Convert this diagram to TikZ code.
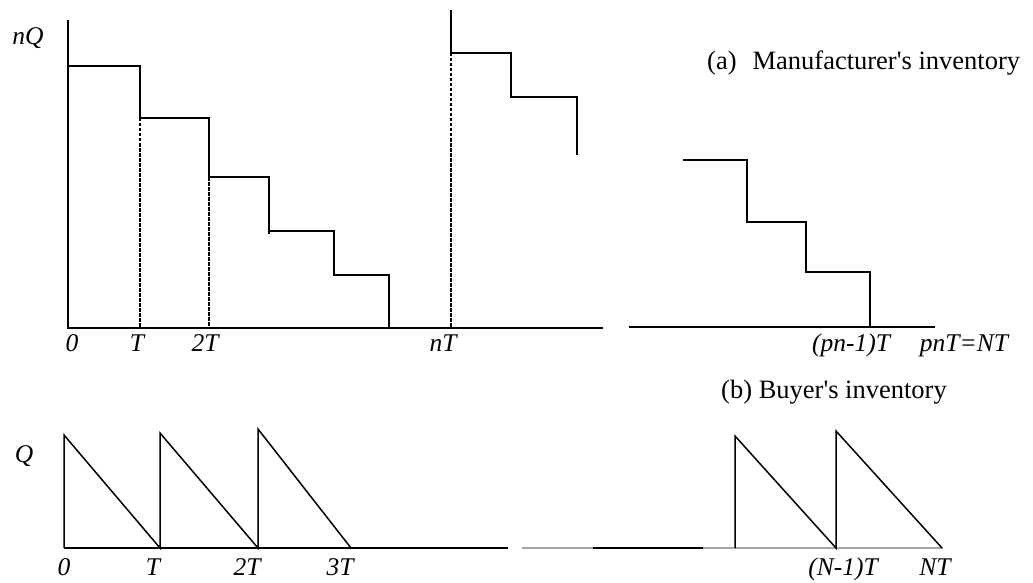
\documentclass[tikz,border=0pt]{standalone}
\usepackage{fontspec}
\setmainfont{Liberation Serif}
\begin{document}
\begin{tikzpicture}[x=1pt,y=-1pt,
  ln/.style={line width=1.5pt},
  dsh/.style={line width=1.3pt, dash pattern=on 3.5pt off 1.5pt},
  gry/.style={line width=1.5pt, draw=black!35},
  lbl/.style={font=\fontsize{25.5}{28}\selectfont\itshape, anchor=base, inner sep=0pt},
  capt/.style={font=\fontsize{26.5}{30}\selectfont, inner sep=0pt}]
\useasboundingbox (0,0) rectangle (1033,583);

% ---------- (a) manufacturer's inventory ----------
\draw[ln] (68,20) -- (68,328) -- (603,328);
\draw[ln] (68,66) -| (140,118) -| (209,177) -| (269,231) -| (334,275) -| (389,328);
\draw[ln] (269,231) -- (269,234);
\draw[dsh] (140,118) -- (140,328);
\draw[dsh] (209,177) -- (209,328);
\draw[dsh] (451,53) -- (451,328);
\draw[ln] (451,10) -- (451,53) -| (511,97) -| (577,155);
\draw[ln] (629,327) -- (935,327);
\draw[ln] (683,160) -| (747,222) -| (806,272) -| (870,327);

\node[lbl] (nQ) at (28,45) {nQ};
\node[lbl] (a0) at (72,351) {0};
\node[lbl] (aT) at (137,351) {T};
\node[lbl] (a2T) at (205,351) {2T};
\node[lbl] (anT) at (443,351) {nT};
\node[lbl] (apn) at (851,351) {(pn-1)T};
\node[lbl] (aNT) at (964,351) {pnT=NT};
\node[capt, anchor=base west] (capa) at (707,70) {(a)\hspace{16pt}Manufacturer\textquotesingle s inventory};

% ---------- (b) buyer's inventory ----------
\node[capt, anchor=base east] (capb) at (947,398) {(b) Buyer\textquotesingle s inventory};
\draw[ln] (64,548) -- (508,548);
\draw[ln] (64,548) -- (64,435) -- (160,548) -- (160,433) -- (258,548) -- (258,429) -- (351,548);
\draw[gry] (522,548) -- (593,548);
\draw[ln] (593,548) -- (703,548);
\draw[gry] (703,548) -- (943,548);
\draw[ln] (735,548) -- (735,436) -- (836,548) -- (836,431) -- (942,548);

\node[lbl] (Q) at (24,462) {Q};
\node[lbl] (b0) at (64,575) {0};
\node[lbl] (bT) at (153,575) {T};
\node[lbl] (b2T) at (247,575) {2T};
\node[lbl] (b3T) at (340,575) {3T};
\node[lbl] (bN1) at (843,575) {(N-1)T};
\node[lbl] (bNT) at (935,575) {NT};
\end{tikzpicture}
\end{document}
